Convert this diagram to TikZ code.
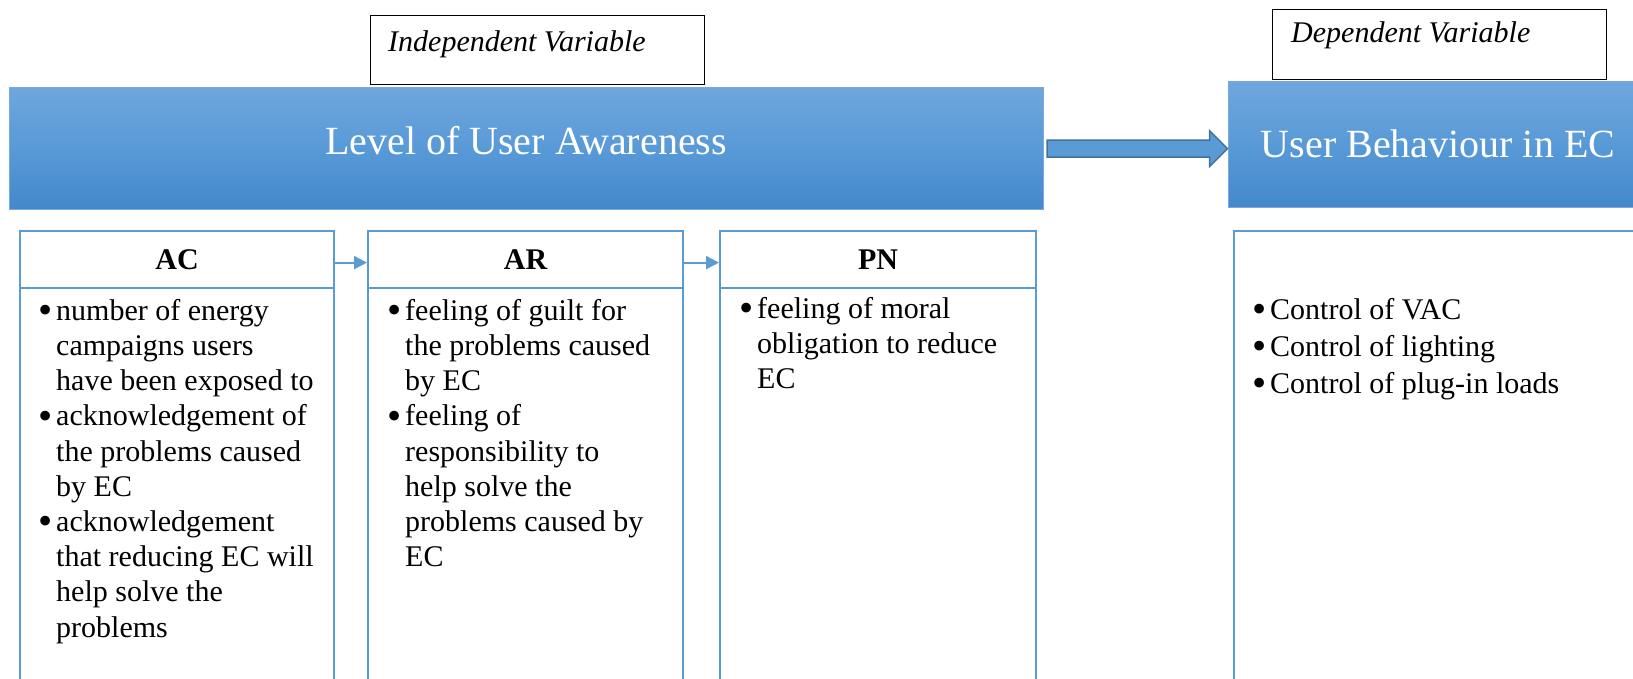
\documentclass[tikz,border=0pt]{standalone}
\usepackage{fontspec}
\usepackage{graphicx}
\setmainfont{Liberation Serif}
\usetikzlibrary{arrows.meta,calc}
\definecolor{acc}{RGB}{91,155,213}
\definecolor{gtop}{RGB}{112,166,221}
\definecolor{gmid}{RGB}{88,154,215}
\definecolor{gbot}{RGB}{68,136,203}
\definecolor{edgeblue}{RGB}{120,170,222}
\definecolor{arrowedge}{RGB}{65,113,156}
\newcommand{\bul}{\llap{\raisebox{-3.5pt}{\scalebox{1.35}{\textbullet}}\hspace{4pt}}}
\begin{document}
\begin{tikzpicture}[x=1pt,y=-1pt,
  varbox/.style={draw=black, line width=1.4pt, fill=white, inner sep=0pt, anchor=north west},
  vartext/.style={font=\fontsize{30pt}{34pt}\selectfont\itshape, anchor=base west, inner sep=0pt},
  bluebox/.style={draw=edgeblue, line width=1.2pt, top color=gtop, bottom color=gbot, middle color=gmid, inner sep=0pt, anchor=north west},
  titletext/.style={font=\fontsize{40pt}{46pt}\selectfont, text=white, anchor=base, inner sep=0pt},
  hdrbox/.style={draw=acc, line width=2.2pt, fill=white, anchor=north west, inner sep=0pt, font=\fontsize{30pt}{34pt}\selectfont\bfseries},
  bodybox/.style={draw=acc, line width=2.2pt, fill=white, anchor=north west, inner sep=0pt},
  bodytext/.style={font=\fontsize{30pt}{35.2pt}\selectfont, align=left, anchor=north west, inner sep=0pt},
  smallarrow/.style={draw=acc, line width=2.2pt, -{Triangle[length=13pt,width=13pt]}},
  bigarrow/.style={fill=acc, draw=arrowedge, line width=1.5pt, line join=miter}
]
\useasboundingbox (0,0) rectangle (1633,679);
\clip (0,0) rectangle (1633,679);
\fill[white] (0,0) rectangle (1633,679);

% blue headline boxes
\node[bluebox, minimum width=1034pt, minimum height=122.6pt] (lua) at (9,86.7) {};
\node[titletext] (luat) at (526,155) {Level of User Awareness};
\node[bluebox, minimum width=422pt, minimum height=126.6pt] (ub) at (1227.5,80.7) {};
\node[titletext] (ubt) at (1438,158) {User Behaviour in EC};

% variable labels
\node[varbox, minimum width=334pt, minimum height=69.3pt] (iv) at (370,14.7) {};
\node[vartext] (ivt) at (388,52) {Independent Variable};
\node[varbox, minimum width=334pt, minimum height=70pt] (dv) at (1272,8.7) {};
\node[vartext] (dvt) at (1291,43) {Dependent Variable};

% big block arrow
\coordinate (tip) at (ub.west |- lua.east);
\filldraw[bigarrow] ($(lua.east)+(3,-8.5)$) -- ($(tip)+(-18,-8.5)$) -- ($(tip)+(-18,-18)$)
  -- (tip) -- ($(tip)+(-18,18)$) -- ($(tip)+(-18,8.5)$) -- ($(lua.east)+(3,8.5)$) -- cycle;

% column boxes
\node[bodybox, minimum width=314pt, minimum height=413pt] (acb) at (19,287) {};
\node[hdrbox, minimum width=314pt, minimum height=57pt] (ach) at (19,230) {AC};
\node[bodybox, minimum width=315pt, minimum height=413pt] (arb) at (367,287) {};
\node[hdrbox, minimum width=315pt, minimum height=57pt] (arh) at (367,230) {AR};
\node[bodybox, minimum width=316pt, minimum height=413pt] (pnb) at (719,287) {};
\node[hdrbox, minimum width=316pt, minimum height=57pt] (pnh) at (719,230) {PN};
\node[bodybox, minimum width=420pt, minimum height=470pt] (bhb) at (1233,230) {};

% small arrows
\draw[smallarrow] ([yshift=-3pt]ach.east) -- ([yshift=-3pt]arh.west);
\draw[smallarrow] ([yshift=-3pt]arh.east) -- ([yshift=-3pt]pnh.west);

% body texts
\node[bodytext] (act) at (56,295.36) {\strut\bul number of energy\\
campaigns users\\
have been exposed to\\
\bul acknowledgement of\\
the problems caused\\
by EC\\
\bul acknowledgement\\
that reducing EC will\\
help solve the\\
problems};
\node[bodytext] (art) at (405,295.36) {\strut\bul feeling of guilt for\\
the problems caused\\
by EC\\
\bul feeling of\\
responsibility to\\
help solve the\\
problems caused by\\
EC};
\node[bodytext] (pnt) at (757,293.36) {\strut\bul feeling of moral\\
obligation to reduce\\
EC};
\node[bodytext, font=\fontsize{30pt}{37pt}\selectfont] (bht) at (1270,293.1) {\strut\bul Control of VAC\\
\bul Control of lighting\\
\bul Control of plug-in loads};
\end{tikzpicture}
\end{document}
